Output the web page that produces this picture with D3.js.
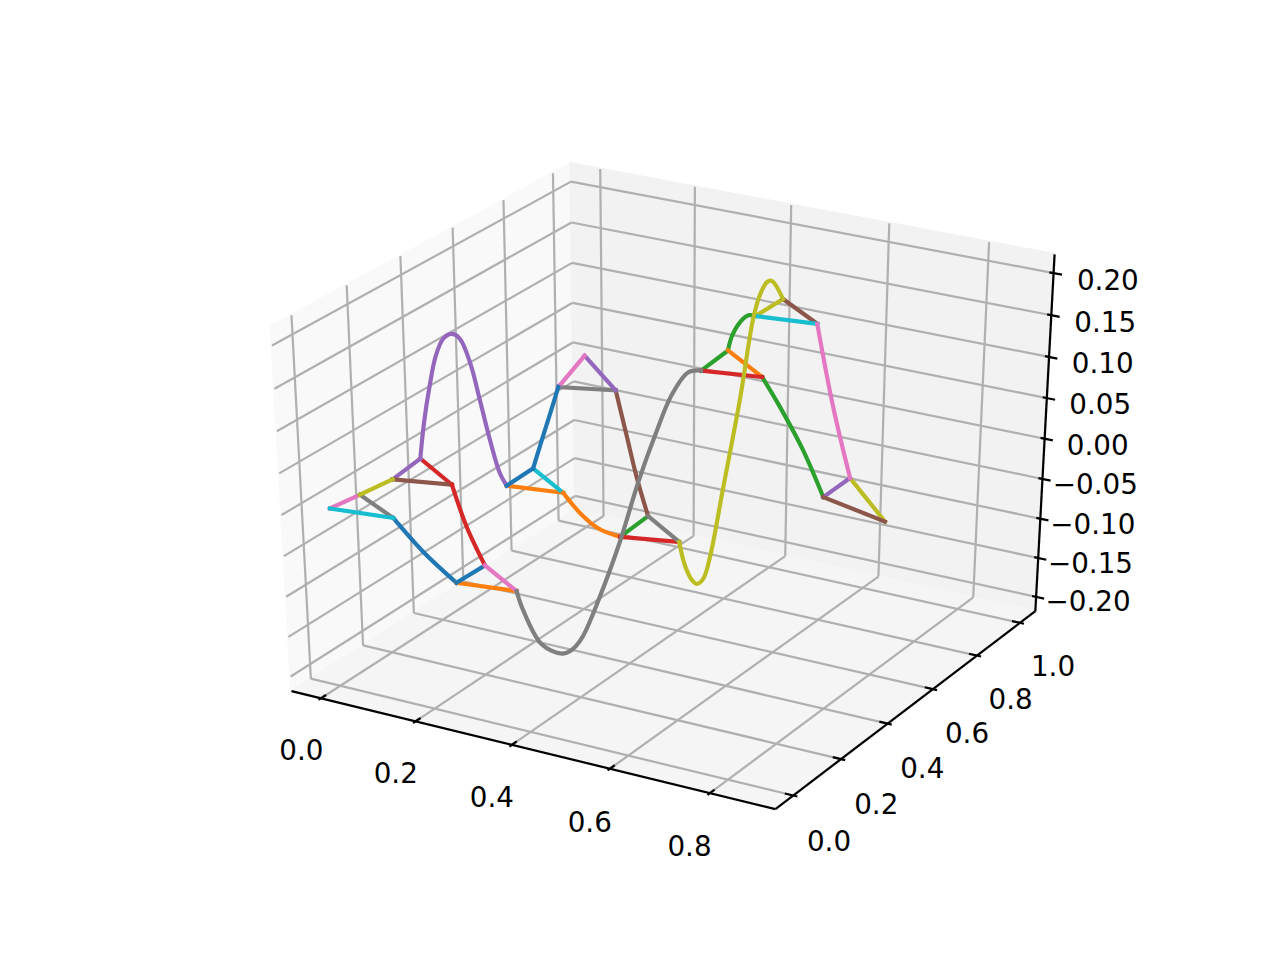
<!DOCTYPE html>
<html><head><meta charset="utf-8"><script src="https://cdnjs.cloudflare.com/ajax/libs/d3/7.8.5/d3.min.js"></script>
<style>html,body{margin:0;background:#fff}svg{display:block}text{font-family:"DejaVu Sans";font-size:27.78px;fill:#000}</style></head><body><svg id="c" width="1280" height="960"></svg>
<script>
const xLim=[-0.0433,0.9093], yLim=[-0.05,1.05], zLim=[-0.2097,0.2132];
const xTicks=[0,0.2,0.4,0.6,0.8], yTicks=[0,0.2,0.4,0.6,0.8,1.0], zTicks=[-0.2,-0.15,-0.1,-0.05,0,0.05,0.1,0.15,0.2];

const vertexNames=['L0','A0','R0','L1','A1','R1','L2','A2','R2','L3','A3','R3','L4','A4','R4','L5','A5','R5','L6','A6','R6','L7','A7','R7','L8','A8','R8'];
const vertexX=[0,0,.1237, 0,0,.1237, .2474,.2474,.3712, .1237,.1237,.2474, .1237,.1237,.2474, .3712,.3712,.4949, .4949,.4949,.6186, .4949,.4949,.6186, .7423,.7423,.866];
const vertexY=[-.006,.105,.008, .228,.335,.230, .013,.122,.012, .441,.547,.432, .654,.762,.648, .420,.535,.416, .504,.614,.500, .727,.843,.728, .503,.617,.501];
const vertexZ=[.003,-.002,.005, -.007,-.002,.002, -.058,-.059,-.051, -.040,-.039,-.031, .042,.061,.054, -.067,-.064,-.056, .134,.138,.142, .159,.159,.164, .014,.015,.001];

const blueAX=[.182], blueAY=[.011], blueAZ=[-.029];
const redAX=[.178], redAY=[.183], redAZ=[-.033];
const grayX=[.375,.387,.400,.407,.414,.426,.440,.453,.464,.475,.486];
const grayY=[.028,.074,.127,.153,.180,.231,.285,.335,.380,.425,.469];
const grayZ=[-.077,-.127,-.148,-.148,-.138,-.095,-.037,.028,.076,.117,.137];
const purpleX=[.007,.017,.027,.039,.051,.062,.076,.088,.101,.114];
const purpleY=[.341,.349,.358,.368,.378,.388,.400,.411,.422,.433];
const purpleZ=[.041,.085,.121,.142,.147,.141,.111,.066,.017,-.024];
const blueBX=[.124,.124], blueBY=[.584,.619], blueBZ=[-.010,.016];
const brownX=[.289,.328], brownY=[.610,.574], brownZ=[.011,-.029];
const orangeX=[.284,.324], orangeY=[.429,.425], orangeZ=[-.051,-.064];
const oliveX=[.495,.495,.495,.495,.495,.495,.495,.495,.495,.495,.495];
const oliveY=[.440,.469,.489,.517,.545,.599,.666,.718,.745,.773,.794];
const oliveZ=[-.090,-.114,-.123,-.122,-.100,-.024,.071,.158,.181,.191,.189];
const greenAX=[.495,.495,.495], greenAY=[.629,.663,.697], greenAZ=[.152,.163,.165];
const greenBX=[.654,.701], greenBY=[.501,.502], greenBZ=[.111,.065];
const pinkX=[.679], pinkY=[.674], pinkZ=[.082];
const none=[];

const blue='#1f77b4',orange='#ff7f0e',green='#2ca02c',red='#d62728',purple='#9467bd',brown='#8c564b',pink='#e377c2',gray='#7f7f7f',olive='#bcbd22',cyan='#17becf';
const edgeFrom =['R0','L2','L5','A1','L1','L1','L0','A0','A0','L0', 'L2','L3','L6','R1','A1','R4','A2','L4','L7','A3', 'L3','R3','A6','L5','A4','A7','L4','A5','A8','L7', 'A3','A6','R6','L6','L8','L8','R7','R2','R5'];
const edgeTo   =['L2','R2','A5','R1','A1','R1','A0','R0','L1','R0', 'A2','R3','A6','A2','L3','A5','R2','R4','A7','R3', 'A3','L5','L7','R5','R4','R7','A4','R5','R8','R7', 'L4','R6','L8','R6','A8','R8','A8','L6','A7'];
const edgeColor=[blue,orange,green,red,purple,brown,pink,gray,olive,cyan, blue,orange,green,red,purple,brown,pink,gray,olive,cyan, blue,orange,green,red,purple,brown,pink,gray,olive,cyan, blue,orange,green,red,purple,brown,pink,gray,olive];
const edgeViaX =[blueAX,none,none,none,none,none,none,none,none,none, none,none,none,redAX,purpleX,brownX,none,none,none,none, none,orangeX,greenAX,none,none,none,none,none,none,none, blueBX,none,greenBX,none,none,none,pinkX,grayX,oliveX];
const edgeViaY =[blueAY,none,none,none,none,none,none,none,none,none, none,none,none,redAY,purpleY,brownY,none,none,none,none, none,orangeY,greenAY,none,none,none,none,none,none,none, blueBY,none,greenBY,none,none,none,pinkY,grayY,oliveY];
const edgeViaZ =[blueAZ,none,none,none,none,none,none,none,none,none, none,none,none,redAZ,purpleZ,brownZ,none,none,none,none, none,orangeZ,greenAZ,none,none,none,none,none,none,none, blueBZ,none,greenBZ,none,none,none,pinkZ,grayZ,oliveZ];

const deg=Math.PI/180, el=30*deg, az=-60*deg, dist=10;
const C=[.5,.5,.5];
const eye=[C[0]+dist*Math.cos(el)*Math.cos(az),C[1]+dist*Math.cos(el)*Math.sin(az),C[2]+dist*Math.sin(el)];
const sub=(a,b)=>a.map((v,i)=>v-b[i]),dot=(a,b)=>a[0]*b[0]+a[1]*b[1]+a[2]*b[2],cross=(a,b)=>[a[1]*b[2]-a[2]*b[1],a[2]*b[0]-a[0]*b[2],a[0]*b[1]-a[1]*b[0]];
const norm=a=>{const l=Math.sqrt(dot(a,a));return a.map(v=>v/l)};
const w=norm(sub(eye,C)),u=norm(cross([0,0,1],w)),v=cross(w,u);
const dx=d3.scaleLinear().domain(xLim).range([0,1]),dy=d3.scaleLinear().domain(yLim).range([0,1]),dz=d3.scaleLinear().domain(zLim).range([0,1]);
const sx=d3.scaleLinear().domain([-0.095,0.09]).range([160,1152]),sy=d3.scaleLinear().domain([-0.095,0.09]).range([854.4,115.2]);
function proj(x,y,z){const p=sub([dx(x),dy(y),dz(z)],eye);const d=-dot(p,w);return [sx(dot(p,u)/d),sy(dot(p,v)/d)]}
const pad=a=>{const m=(a[1]-a[0])/48;return [a[0]-m,a[1]+m]};
const X=pad(xLim),Y=pad(yLim),Z=pad(zLim);
const svg=d3.select('#c');
const line=(a,b,c,wd)=>svg.append('line').attr('x1',a[0]).attr('y1',a[1]).attr('x2',b[0]).attr('y2',b[1]).attr('stroke',c).attr('stroke-width',wd);
const poly=(pts,f)=>svg.append('polygon').attr('points',pts.map(p=>p.join(',')).join(' ')).attr('fill',f).attr('stroke',f).attr('stroke-width',2.78);
const label=(p,s)=>svg.append('text').attr('x',p[0]).attr('y',p[1]).attr('dy','0.37em').attr('text-anchor','middle').text(s);
poly([proj(X[0],Y[0],Z[0]),proj(X[0],Y[1],Z[0]),proj(X[0],Y[1],Z[1]),proj(X[0],Y[0],Z[1])],'#f9f9f9');
poly([proj(X[0],Y[1],Z[0]),proj(X[1],Y[1],Z[0]),proj(X[1],Y[1],Z[1]),proj(X[0],Y[1],Z[1])],'#f2f2f2');
poly([proj(X[0],Y[0],Z[0]),proj(X[1],Y[0],Z[0]),proj(X[1],Y[1],Z[0]),proj(X[0],Y[1],Z[0])],'#f5f5f5');
const g='#b0b0b0',gw=2.22;
xTicks.forEach(t=>{line(proj(t,Y[0],Z[0]),proj(t,Y[1],Z[0]),g,gw);line(proj(t,Y[1],Z[0]),proj(t,Y[1],Z[1]),g,gw)});
yTicks.forEach(t=>{line(proj(X[1],t,Z[0]),proj(X[0],t,Z[0]),g,gw);line(proj(X[0],t,Z[0]),proj(X[0],t,Z[1]),g,gw)});
zTicks.forEach(t=>{line(proj(X[0],Y[0],t),proj(X[0],Y[1],t),g,gw);line(proj(X[0],Y[1],t),proj(X[1],Y[1],t),g,gw)});
line(proj(X[0],Y[0],Z[0]),proj(X[1],Y[0],Z[0]),'#000',gw);
line(proj(X[1],Y[0],Z[0]),proj(X[1],Y[1],Z[0]),'#000',gw);
line(proj(X[1],Y[1],Z[0]),proj(X[1],Y[1],Z[1]),'#000',gw);
const dX=(X[1]-X[0])/12,dY=(Y[1]-Y[0])/12,dZ=(Z[1]-Z[0])/12;
const fmt=d3.format('.1f'),fz=t=>d3.format('.2f')(t).replace('-','\u2212');
xTicks.forEach(t=>{line(proj(t,Y[0]-.1*dY,Z[0]),proj(t,Y[0]+.2*dY,Z[0]),'#000',gw);label(proj(t,Y[0]-.85*dY,Z[0]-1.29*dZ),fmt(t))});
yTicks.forEach(t=>{line(proj(X[1]+.1*dX,t,Z[0]),proj(X[1]-.2*dX,t,Z[0]),'#000',gw);label(proj(X[1]+.87*dX,t,Z[0]-1.24*dZ),fmt(t))});
zTicks.forEach(t=>{line(proj(X[1]+.2*dX,Y[1],t),proj(X[1]-.1*dX,Y[1],t),'#000',gw);label(proj(X[1]+1.28*dX,Y[1],t*.986+.0065),fz(t))});

const idx=n=>vertexNames.indexOf(n);
const path=d3.line().curve(d3.curveCatmullRom.alpha(0.5));
edgeFrom.forEach((f,i)=>{
  const a=idx(f),b=idx(edgeTo[i]);
  const xs=[vertexX[a],...edgeViaX[i],vertexX[b]],ys=[vertexY[a],...edgeViaY[i],vertexY[b]],zs=[vertexZ[a],...edgeViaZ[i],vertexZ[b]];
  svg.append('path').attr('d',path(xs.map((x,k)=>proj(x,ys[k],zs[k])))).attr('fill','none').attr('stroke',edgeColor[i]).attr('stroke-width',4.17).attr('stroke-linecap','square').attr('stroke-linejoin','round');
});
</script></body></html>
